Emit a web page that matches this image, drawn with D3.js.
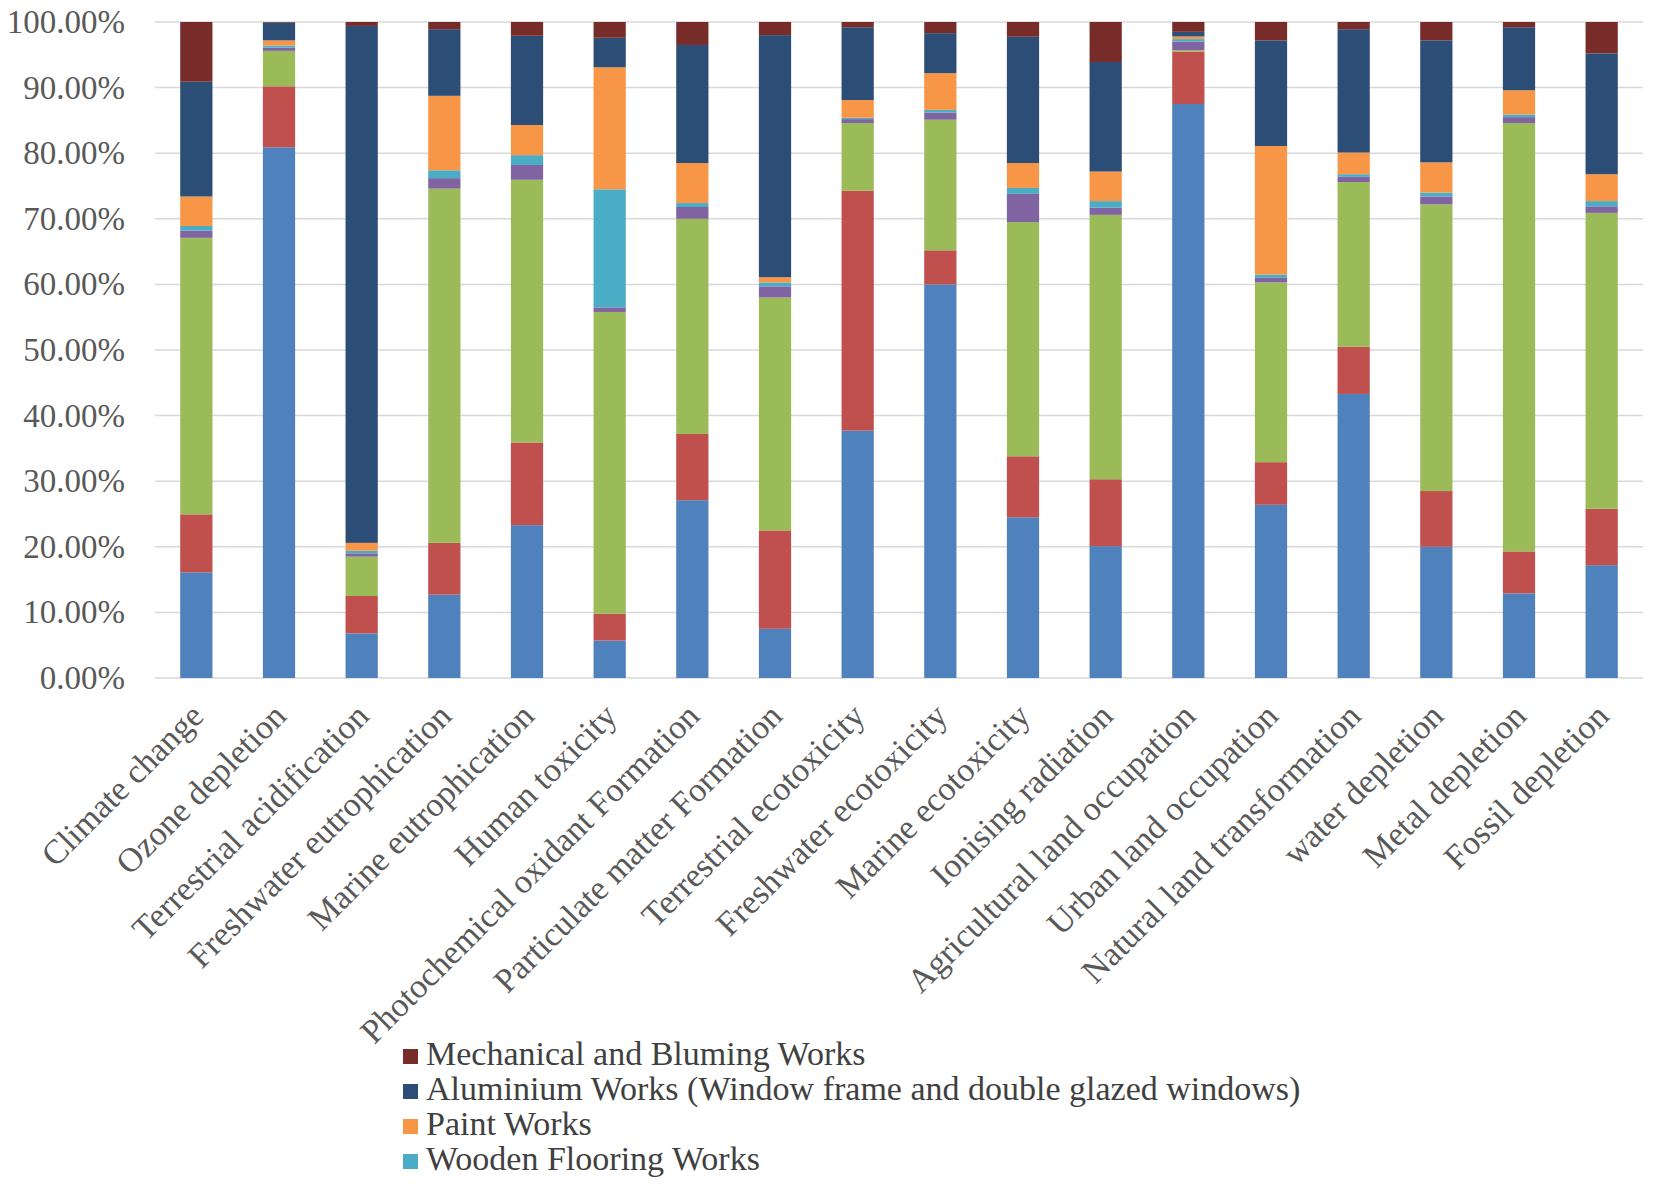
<!DOCTYPE html>
<html>
<head>
<meta charset="utf-8">
<script src="https://cdn.jsdelivr.net/npm/d3@7"></script>
<style>
  html, body { margin: 0; padding: 0; background: #ffffff; }
  svg { display: block; }
</style>
</head>
<body>
<svg id="chart" width="1653" height="1184"></svg>
<script>
// ---------------- DATA ----------------
const categories = [
  "Climate change", "Ozone depletion", "Terrestrial acidification",
  "Freshwater eutrophication", "Marine eutrophication", "Human toxicity",
  "Photochemical oxidant Formation", "Particulate matter Formation",
  "Terrestrial ecotoxicity", "Freshwater ecotoxicity", "Marine ecotoxicity",
  "Ionising radiation", "Agricultural land occupation", "Urban land occupation",
  "Natural land transformation", "water depletion", "Metal depletion", "Fossil depletion"
];

// unnamed series (legend entries not visible in the reference), bottom to top
const seriesA = [16.1, 80.9, 6.8, 12.7, 23.3, 5.7, 27.1, 7.5, 37.7, 60.0, 24.5, 20.1, 87.5, 26.4, 43.3, 20.0, 12.9, 17.2];
const seriesB = [8.85, 9.3, 5.7, 7.9, 12.6, 4.1, 10.1, 15.0, 36.6, 5.2, 9.3, 10.2, 8.0, 6.5, 7.2, 8.5, 6.4, 8.6];
const seriesC = [42.15, 5.4, 6.0, 54.0, 40.05, 46.0, 32.8, 35.5, 10.3, 19.9, 35.7, 40.3, 0.2, 27.4, 25.1, 43.7, 65.3, 45.1];
const seriesD = [1.1, 0.5, 0.5, 1.6, 2.25, 0.7, 1.8, 1.7, 0.6, 1.1, 4.3, 1.1, 1.3, 0.7, 0.8, 1.2, 0.9, 1.0];
// named series
const woodenFlooring = [0.7, 0.3, 0.4, 1.2, 1.5, 18.0, 0.6, 0.6, 0.2, 0.4, 0.9, 1.0, 0.4, 0.5, 0.4, 0.6, 0.4, 0.8];
const paintWorks = [4.5, 0.8, 1.2, 11.35, 4.6, 18.6, 6.1, 0.8, 2.7, 5.6, 3.8, 4.5, 0.4, 19.6, 3.3, 4.6, 3.7, 4.1];
const aluminiumWorks = [17.5, 2.7, 78.8, 10.15, 13.6, 4.5, 18.0, 36.9, 11.1, 6.1, 19.25, 16.7, 0.7, 16.1, 18.8, 18.6, 9.6, 18.4];
const mechanicalWorks = [9.1, 0.1, 0.6, 1.1, 2.1, 2.4, 3.5, 2.0, 0.8, 1.7, 2.25, 6.1, 1.5, 2.8, 1.1, 2.8, 0.8, 4.8];

const seriesKeys = ["seriesA", "seriesB", "seriesC", "seriesD", "wooden", "paint", "aluminium", "mechanical"];
const seriesValues = [seriesA, seriesB, seriesC, seriesD, woodenFlooring, paintWorks, aluminiumWorks, mechanicalWorks];
const seriesColors = ["#4F81BD", "#C0504D", "#9BBB59", "#8064A2", "#4BACC6", "#F79646", "#2C4D75", "#772C2A"];

const legendKeys = ["mechanical", "aluminium", "paint", "wooden"];
const legendLabels = [
  "Mechanical and Bluming Works",
  "Aluminium Works (Window frame and double glazed windows)",
  "Paint Works",
  "Wooden Flooring Works"
];

const yTicks = [0, 10, 20, 30, 40, 50, 60, 70, 80, 90, 100];

// ---------------- CHART ----------------
const svg = d3.select("#chart");
const plot = { left: 155, right: 1643, top: 22, bottom: 678 };
const fontFamily = "'Liberation Serif', 'Times New Roman', serif";
const textColor = "#595959";

const rows = categories.map((c, i) => {
  const r = { category: c };
  seriesKeys.forEach((k, j) => { r[k] = seriesValues[j][i]; });
  return r;
});

const x = d3.scaleBand().domain(categories).range([plot.left, plot.right]).paddingInner(0.61).paddingOuter(0.305);
const y = d3.scaleLinear().domain([0, 100]).range([plot.bottom, plot.top]);
const color = d3.scaleOrdinal().domain(seriesKeys).range(seriesColors);

// gridlines
svg.append("g")
  .selectAll("line")
  .data(yTicks)
  .join("line")
  .attr("x1", plot.left)
  .attr("x2", plot.right)
  .attr("y1", d => y(d))
  .attr("y2", d => y(d))
  .attr("stroke", "#D9D9D9")
  .attr("stroke-width", 1.5);

// y axis labels
const yAxis = d3.axisLeft(y).tickValues(yTicks).tickFormat(d => d3.format(".2f")(d) + "%").tickSize(0).tickPadding(30);
const yG = svg.append("g").attr("transform", `translate(${plot.left},0)`).call(yAxis);
yG.select(".domain").remove();
yG.selectAll("text")
  .attr("font-family", fontFamily)
  .attr("font-size", 33)
  .attr("fill", textColor);

// stacked bars
const stacked = d3.stack().keys(seriesKeys)(rows);
svg.append("g")
  .selectAll("g")
  .data(stacked)
  .join("g")
  .attr("fill", d => color(d.key))
  .selectAll("rect")
  .data(d => d)
  .join("rect")
  .attr("x", d => x(d.data.category))
  .attr("width", x.bandwidth())
  .attr("y", d => y(d[1]))
  .attr("height", d => y(d[0]) - y(d[1]));

// x axis labels (rotated)
const xAxis = d3.axisBottom(x).tickSize(0).tickPadding(0);
const xG = svg.append("g").attr("transform", `translate(0,${plot.bottom})`).call(xAxis);
xG.select(".domain").remove();
xG.selectAll(".tick text")
  .attr("font-family", fontFamily)
  .attr("font-size", 34)
  .attr("fill", textColor)
  .attr("text-anchor", "end")
  .attr("dy", null)
  .attr("y", 0)
  .attr("transform", "translate(9,40) rotate(-45)");

// legend
const legend = svg.append("g").attr("transform", "translate(403,1057)");
const legendItems = legend.selectAll("g")
  .data(legendKeys)
  .join("g")
  .attr("transform", (d, i) => `translate(0,${i * 35})`);
legendItems.append("rect")
  .attr("x", 0).attr("y", -8)
  .attr("width", 15).attr("height", 15)
  .attr("fill", d => color(d));
legendItems.append("text")
  .attr("x", 23)
  .attr("y", 0)
  .attr("dominant-baseline", "middle")
  .attr("font-family", fontFamily)
  .attr("font-size", 34)
  .attr("fill", "#404040")
  .text((d, i) => legendLabels[i]);
</script>
</body>
</html>
